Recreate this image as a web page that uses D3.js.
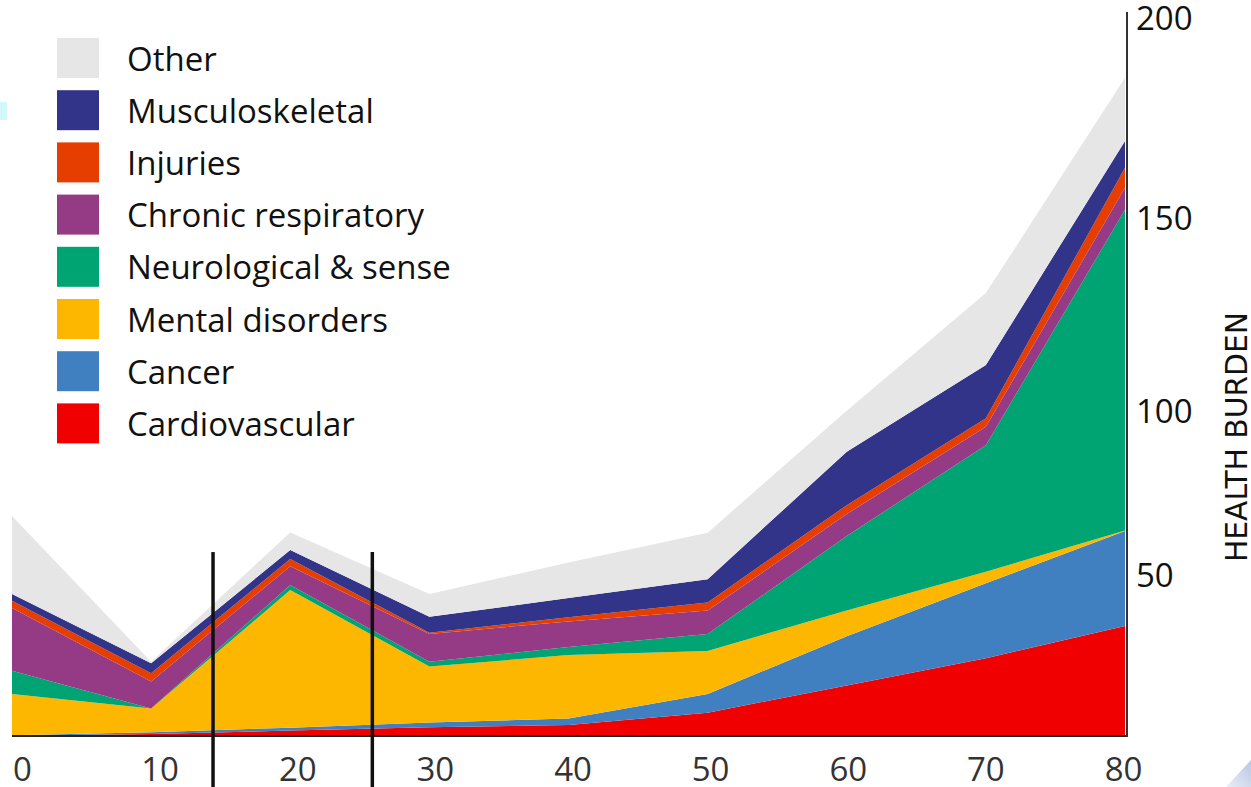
<!DOCTYPE html>
<html>
<head>
<meta charset="utf-8">
<script src="https://cdnjs.cloudflare.com/ajax/libs/d3/7.8.5/d3.min.js"></script>
<style>
  html, body { margin: 0; padding: 0; background: #ffffff; }
  svg { display: block; }
</style>
</head>
<body>
<svg id="chart" width="1251" height="787"></svg>
<script>
// ---- data ----
const ages = [0, 10, 20, 30, 40, 50, 60, 70, 80];
const seriesNames = ["Cardiovascular", "Cancer", "Mental disorders", "Neurological & sense",
                     "Chronic respiratory", "Injuries", "Musculoskeletal", "Other"];
const cardiovascular = [0.1, 0.6, 1.7, 2.7, 3.4, 7.3, 15.8, 24.3, 34.4];
const cancer         = [0.1, 0.6, 0.9, 1.5, 2.1, 5.8, 15.4, 23.4, 29.3];
const mental         = [12.9, 7.4, 43.0, 17.5, 19.8, 13.5, 8.0, 3.6, 0.2];
const neurological   = [7.3, 0.0, 1.6, 1.5, 2.5, 5.3, 23.0, 38.6, 88.4];
const chronicResp    = [19.6, 8.4, 5.8, 8.7, 8.0, 7.3, 6.7, 5.6, 5.5];
const injuries       = [2.3, 2.6, 2.2, 0.4, 1.3, 2.5, 2.7, 2.6, 5.0];
const musculoskeletal= [2.1, 3.1, 2.7, 5.0, 6.0, 7.3, 16.3, 14.1, 6.7];
const other          = [23.9, 0.5, 5.4, 7.1, 11.0, 14.2, 12.4, 18.6, 15.8];
const yTickValues = [50, 100, 150, 200];
const yTickLevels = [0, 50, 100, 150, 200];
const markerAges = [14.45, 25.9];
const yAxisTitle = "HEALTH BURDEN";

const colors = {
  "Cardiovascular": "#f00000",
  "Cancer": "#4180c0",
  "Mental disorders": "#feb700",
  "Neurological & sense": "#00a472",
  "Chronic respiratory": "#953a84",
  "Injuries": "#e63d00",
  "Musculoskeletal": "#32348a",
  "Other": "#e6e6e6"
};

const valuesBySeries = [cardiovascular, cancer, mental, neurological, chronicResp, injuries, musculoskeletal, other];
const table = ages.map((a, i) => {
  const row = { age: a };
  seriesNames.forEach((n, k) => row[n] = valuesBySeries[k][i]);
  return row;
});

// ---- layout ----
const svg = d3.select("#chart");
const W = 1251, H = 787;
const plotLeft = 12, plotRight = 1125, baseY = 736;

const x = d3.scaleLinear().domain([0, 80]).range([plotLeft, plotRight]);
const xLabel = d3.scaleLinear().domain([0, 80]).range([22, 1123]);
// the original's value axis is not evenly spaced; reproduce its tick positions
const y = d3.scaleLinear().domain(yTickLevels).range([baseY, 576, 412, 219, 19]);

// background artifacts from the source slide
svg.append("rect").attr("x", 0).attr("y", 102).attr("width", 7).attr("height", 18).attr("fill", "#d2f7fb");
const grad = svg.append("defs").append("linearGradient").attr("id", "cornerGrad")
  .attr("x1", "0").attr("y1", "1").attr("x2", "1").attr("y2", "0");
grad.append("stop").attr("offset", "0").attr("stop-color", "#e9eef8");
grad.append("stop").attr("offset", "1").attr("stop-color", "#b9c6e2");
svg.append("path").attr("d", "M1226,787 L1251,760 L1251,787 Z").attr("fill", "url(#cornerGrad)");

// ---- stacked areas ----
const stack = d3.stack().keys(seriesNames);
const layers = stack(table);
const area = d3.area()
  .x(d => x(d.data.age))
  .y0(d => y(d[0]))
  .y1(d => y(d[1]));

svg.append("g").selectAll("path")
  .data(layers)
  .join("path")
  .attr("d", area)
  .attr("fill", d => colors[d.key]);

// ---- axes ----
// baseline
svg.append("line")
  .attr("x1", x(0)).attr("x2", x(80) + 2)
  .attr("y1", baseY).attr("y2", baseY)
  .attr("stroke", "#222").attr("stroke-width", 2);

// right axis
const yAxisX = x(80) + 2;
svg.append("line")
  .attr("x1", yAxisX).attr("x2", yAxisX)
  .attr("y1", y(200) - 7).attr("y2", baseY + 1)
  .attr("stroke", "#333").attr("stroke-width", 2);

const yAxisG = svg.append("g")
  .attr("transform", `translate(${yAxisX},0)`)
  .call(d3.axisRight(y).tickValues(yTickValues).tickSize(0).tickPadding(9));
yAxisG.select(".domain").remove();
yAxisG.selectAll("text")
  .attr("font-family", "'Open Sans', sans-serif")
  .attr("font-size", 33)
  .attr("fill", "#111");

const xAxisG = svg.append("g")
  .attr("transform", `translate(0,${baseY})`)
  .call(d3.axisBottom(xLabel).tickValues(ages).tickSize(0).tickPadding(22));
xAxisG.select(".domain").remove();
xAxisG.selectAll("text")
  .attr("font-family", "'Open Sans', sans-serif")
  .attr("font-size", 33)
  .attr("fill", "#333");

// axis title
svg.append("text")
  .attr("transform", `translate(1247,${437}) rotate(-90)`)
  .attr("text-anchor", "middle")
  .attr("font-family", "'Liberation Sans Narrow', 'DejaVu Sans Condensed', 'Liberation Sans', sans-serif")
  .attr("font-size", 31)
  .attr("textLength", 250)
  .attr("lengthAdjust", "spacingAndGlyphs")
  .attr("fill", "#111")
  .text(yAxisTitle);

// ---- age markers ----
svg.append("g").selectAll("line")
  .data(markerAges)
  .join("line")
  .attr("x1", d => x(d)).attr("x2", d => x(d))
  .attr("y1", y(57.3)).attr("y2", H)
  .attr("stroke", "#111").attr("stroke-width", 3.5);

// ---- legend ----
const legendOrder = seriesNames.slice().reverse();
const legend = svg.append("g");
const rowY = i => 58 + i * 52.2;
legend.selectAll("rect")
  .data(legendOrder)
  .join("rect")
  .attr("x", 57).attr("y", (d, i) => rowY(i) - 20)
  .attr("width", 42).attr("height", 40)
  .attr("fill", d => colors[d]);
legend.selectAll("text")
  .data(legendOrder)
  .join("text")
  .attr("x", 127).attr("y", (d, i) => rowY(i) + 1)
  .attr("dy", "0.35em")
  .attr("font-family", "'Open Sans', sans-serif")
  .attr("font-size", 33)
  .attr("fill", "#111")
  .text(d => d);
</script>
</body>
</html>
